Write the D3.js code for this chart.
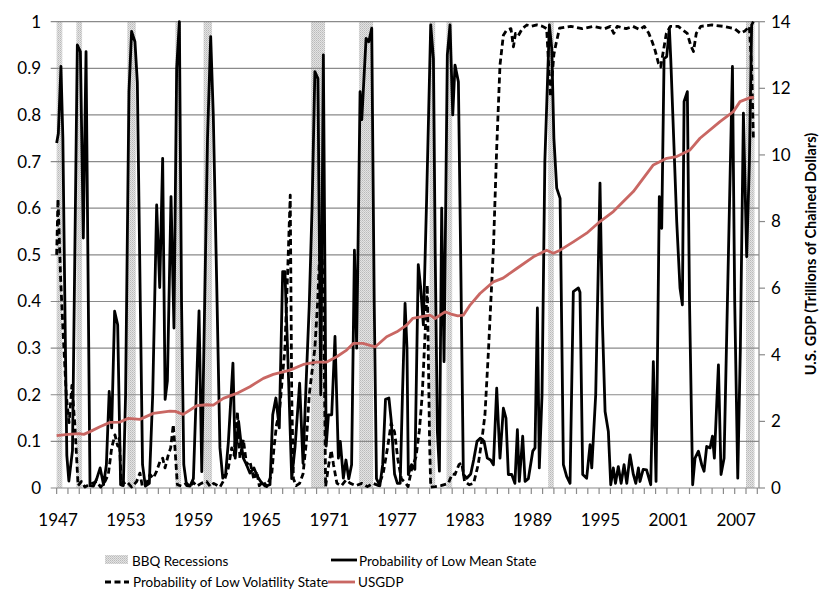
<!DOCTYPE html>
<html><head><meta charset="utf-8">
<script src="https://cdn.jsdelivr.net/npm/d3@7"></script>
<style>
html,body{margin:0;padding:0;background:#fff;}
svg text{font-family:Lato,"Open Sans",sans-serif;fill:#000;}
</style></head>
<body>
<svg id="chart" width="822" height="600"></svg>
<script>
// ---------- DATA ----------
const recessionStart = [1947.0, 1948.75, 1953.25, 1957.5, 1960.0, 1969.5, 1973.75, 1980.0, 1981.5, 1990.5, 2008.0];
const recessionEnd   = [1947.5, 1949.25, 1954.0, 1958.0, 1960.75, 1970.75, 1975.0, 1980.5, 1982.0, 1991.0, 2008.75];

const lowMeanT = [1947.0,1947.15,1947.38,1947.55,1947.75,1947.9,1948.08,1948.4,1948.83,1949.1,1949.36,1949.6,1949.95,1950.25,1950.55,1950.85,1951.15,1951.4,1951.65,1951.87,1952.13,1952.4,1952.66,1952.9,1953.1,1953.4,1953.63,1953.93,1954.14,1954.4,1954.6,1954.85,1955.2,1955.5,1955.85,1956.12,1956.38,1956.6,1956.8,1957.12,1957.38,1957.62,1957.86,1958.05,1958.25,1958.5,1958.8,1959.1,1959.35,1959.6,1959.84,1960.1,1960.35,1960.63,1960.86,1961.16,1961.45,1961.7,1961.95,1962.2,1962.6,1962.8,1963.1,1963.3,1963.52,1963.8,1964.1,1964.46,1964.76,1965.05,1965.44,1965.88,1966.12,1966.4,1966.7,1967.0,1967.2,1967.5,1967.8,1968.1,1968.5,1968.8,1969.1,1969.35,1969.6,1969.85,1970.12,1970.37,1970.6,1970.85,1971.05,1971.34,1971.63,1971.93,1972.1,1972.37,1972.6,1972.85,1973.1,1973.35,1973.55,1973.85,1974.0,1974.38,1974.62,1974.88,1975.1,1975.3,1975.6,1975.85,1976.1,1976.4,1976.6,1976.9,1977.15,1977.4,1977.6,1977.83,1978.0,1978.12,1978.4,1978.7,1979.0,1979.21,1979.45,1979.74,1980.1,1980.34,1980.5,1980.69,1980.87,1981.07,1981.28,1981.57,1981.81,1982.05,1982.25,1982.55,1982.75,1982.99,1983.29,1983.64,1983.9,1984.2,1984.5,1984.82,1985.11,1985.4,1985.65,1985.94,1986.23,1986.53,1986.76,1986.97,1987.27,1987.55,1987.77,1987.94,1988.24,1988.45,1988.74,1989.13,1989.33,1989.54,1989.71,1989.95,1990.2,1990.6,1990.81,1991.0,1991.25,1991.55,1991.84,1992.13,1992.43,1992.72,1993.17,1993.31,1993.55,1993.9,1994.2,1994.35,1994.7,1995.08,1995.3,1995.53,1995.82,1996.03,1996.26,1996.45,1996.7,1996.95,1997.21,1997.45,1997.74,1998.03,1998.25,1998.48,1998.62,1998.9,1999.2,1999.57,1999.8,2000.04,2000.33,2000.54,2000.75,2000.98,2001.22,2001.34,2001.6,2001.87,2002.16,2002.37,2002.52,2002.81,2003.0,2003.28,2003.49,2003.79,2004.08,2004.29,2004.52,2004.82,2005.03,2005.2,2005.56,2005.79,2006.06,2006.4,2006.8,2007.0,2007.27,2007.5,2007.77,2008.06,2008.3,2008.5,2008.65];
const lowMeanP = [0.74,0.76,0.904,0.75,0.35,0.07,0.015,0.08,0.95,0.936,0.536,0.936,0.005,0.004,0.02,0.043,0.007,0.05,0.207,0.129,0.379,0.35,0.007,0.005,0.2,0.85,0.979,0.957,0.87,0.4,0.05,0.004,0.01,0.2,0.607,0.43,0.707,0.19,0.23,0.625,0.343,0.9,1.0,0.4,0.05,0.005,0.004,0.02,0.2,0.38,0.035,0.4,0.75,0.968,0.8,0.443,0.086,0.021,0.03,0.1,0.268,0.064,0.143,0.1,0.064,0.05,0.032,0.043,0.025,0.014,0.004,0.007,0.157,0.193,0.129,0.464,0.464,0.25,0.02,0.089,0.225,0.053,0.24,0.39,0.6,0.893,0.878,0.2,0.929,0.09,0.157,0.157,0.325,0.064,0.1,0.021,0.06,0.02,0.05,0.51,0.3,0.85,0.79,0.964,0.957,0.986,0.4,0.02,0.005,0.05,0.19,0.193,0.146,0.03,0.01,0.01,0.2,0.396,0.3,0.029,0.05,0.04,0.479,0.43,0.35,0.621,0.993,0.921,0.5,0.121,0.036,0.6,0.271,0.929,0.993,0.8,0.907,0.871,0.5,0.029,0.021,0.03,0.06,0.1,0.107,0.1,0.064,0.06,0.05,0.214,0.064,0.171,0.15,0.029,0.029,0.01,0.125,0.014,0.111,0.014,0.02,0.079,0.086,0.386,0.043,0.2,0.7,0.993,0.943,0.75,0.643,0.621,0.05,0.025,0.01,0.421,0.429,0.42,0.029,0.021,0.093,0.043,0.2,0.654,0.35,0.164,0.121,0.007,0.043,0.01,0.046,0.01,0.05,0.01,0.071,0.029,0.01,0.043,0.014,0.04,0.039,0.007,0.271,0.014,0.625,0.557,0.921,0.925,0.986,0.921,0.75,0.571,0.429,0.393,0.829,0.85,0.4,0.007,0.064,0.079,0.05,0.036,0.089,0.086,0.111,0.064,0.264,0.029,0.064,0.45,0.904,0.4,0.021,0.3,0.804,0.496,0.7,0.993,1.0];

const lowVolT = [1947.0,1947.12,1947.35,1947.6,1947.85,1948.1,1948.35,1948.6,1948.9,1949.2,1949.5,1949.95,1950.54,1950.9,1951.28,1951.57,1951.87,1952.16,1952.4,1952.55,1952.72,1953.19,1953.64,1954.08,1954.37,1954.58,1954.96,1955.26,1955.55,1955.85,1956.14,1956.38,1956.59,1956.88,1957.09,1957.32,1957.47,1957.68,1958.06,1958.5,1958.8,1959.1,1959.39,1959.8,1960.27,1960.6,1960.9,1961.45,1961.9,1962.19,1962.49,1962.7,1962.99,1963.22,1963.52,1963.81,1964.1,1964.46,1964.7,1964.93,1965.29,1965.6,1966.03,1966.23,1966.46,1966.7,1966.95,1967.2,1967.45,1967.67,1967.8,1967.95,1968.2,1968.5,1968.8,1969.1,1969.35,1969.6,1969.85,1970.1,1970.35,1970.6,1970.8,1971.05,1971.3,1971.5,1971.8,1972.2,1972.6,1973.0,1973.5,1974.0,1974.5,1975.0,1975.5,1975.9,1976.3,1976.6,1976.9,1977.2,1977.5,1977.9,1978.1,1978.4,1978.8,1979.1,1979.35,1979.6,1979.8,1980.0,1980.1,1980.5,1981.0,1981.66,1982.0,1982.25,1982.6,1982.84,1983.1,1983.5,1983.9,1984.3,1984.61,1984.9,1985.2,1985.65,1985.94,1986.23,1986.53,1986.82,1987.2,1987.42,1987.6,1987.85,1988.2,1988.6,1989.0,1989.5,1990.0,1990.36,1990.6,1990.7,1991.0,1991.2,1991.5,1992.5,1993.5,1994.5,1995.5,1996.0,1996.3,1996.6,1997.4,1998.0,1998.6,1999.0,1999.4,1999.7,1999.95,2000.25,2000.45,2000.7,2000.95,2001.3,2002.0,2002.8,2003.1,2003.35,2003.6,2004.0,2005.0,2006.0,2007.0,2007.5,2007.9,2008.3,2008.5,2008.65];
const lowVolP = [0.5,0.62,0.45,0.32,0.2,0.14,0.22,0.14,0.005,0.014,0.002,0.008,0.014,0.002,0.014,0.029,0.086,0.114,0.09,0.107,0.007,0.014,0.002,0.014,0.032,0.004,0.01,0.029,0.021,0.036,0.057,0.064,0.043,0.071,0.086,0.136,0.086,0.007,0.004,0.01,0.003,0.012,0.004,0.01,0.014,0.003,0.01,0.002,0.021,0.043,0.086,0.07,0.164,0.064,0.104,0.05,0.057,0.018,0.036,0.005,0.014,0.003,0.029,0.086,0.136,0.16,0.23,0.3,0.47,0.628,0.2,0.02,0.005,0.01,0.03,0.1,0.2,0.25,0.3,0.4,0.55,0.45,0.003,0.046,0.081,0.05,0.01,0.005,0.017,0.01,0.005,0.01,0.003,0.01,0.005,0.032,0.089,0.139,0.12,0.06,0.02,0.01,0.003,0.039,0.067,0.124,0.2,0.33,0.435,0.1,0.002,0.003,0.005,0.01,0.03,0.029,0.05,0.054,0.014,0.007,0.01,0.05,0.1,0.157,0.29,0.514,0.729,0.907,0.971,0.982,0.985,0.946,0.975,0.97,0.985,0.993,0.99,0.993,0.99,0.985,0.88,0.839,0.93,0.954,0.986,0.99,0.985,0.99,0.985,0.99,0.975,0.99,0.985,0.99,0.983,0.99,0.975,0.957,0.939,0.911,0.903,0.939,0.975,0.99,0.99,0.975,0.95,0.936,0.975,0.99,0.993,0.99,0.985,0.975,0.98,0.99,0.9,0.75];

const gdpT = [1947.0,1948.0,1949.0,1949.4,1950.0,1950.83,1951.72,1952.6,1953.34,1954.37,1955.55,1957.03,1957.5,1958.2,1959.39,1960.3,1960.86,1961.75,1962.93,1964.1,1965.29,1966.17,1967.65,1968.83,1970.0,1970.9,1971.78,1972.66,1973.25,1974.1,1975.2,1976.2,1977.1,1978.0,1978.5,1980.04,1980.48,1981.37,1981.9,1982.5,1982.99,1983.6,1984.46,1985.64,1986.5,1987.71,1989.19,1990.36,1990.95,1991.55,1992.72,1993.9,1995.08,1996.26,1998.03,1999.8,2000.98,2001.87,2003.05,2003.93,2005.7,2006.88,2007.47,2008.36,2008.7];
const gdpV = [1.57,1.61,1.63,1.61,1.70,1.84,1.97,1.98,2.09,2.06,2.24,2.31,2.30,2.21,2.47,2.50,2.49,2.69,2.84,3.04,3.29,3.41,3.54,3.71,3.78,3.78,3.94,4.14,4.34,4.34,4.24,4.54,4.69,4.90,5.09,5.19,5.09,5.29,5.22,5.17,5.19,5.50,5.84,6.19,6.30,6.59,6.94,7.14,7.05,7.14,7.39,7.65,8.00,8.30,8.90,9.70,9.90,9.95,10.15,10.50,11.00,11.30,11.60,11.72,11.73];

const leftTicks = [0,0.1,0.2,0.3,0.4,0.5,0.6,0.7,0.8,0.9,1];
const leftTickLabels = ["0","0.1","0.2","0.3","0.4","0.5","0.6","0.7","0.8","0.9","1"];
const rightTicks = [0,2,4,6,8,10,12,14];
const yearLabels = [1947,1953,1959,1965,1971,1977,1983,1989,1995,2001,2007];
const legendLabels = ["BBQ Recessions","Probability of Low Mean State","Probability of Low Volatility State","USGDP"];
const rightTitle = "U.S. GDP (Trillions of Chained Dollars)";

// ---------- DRAWING ----------
const svg = d3.select("#chart");
const x = d3.scaleLinear().domain([1947, 2009.15]).range([56.65, 759]);
const y = d3.scaleLinear().domain([0, 1]).range([488, 21.7]);
const y2 = d3.scaleLinear().domain([0, 14]).range([488, 21.7]);
const gridCol = "#8a8a8a";
const red = "#c96763";

const defs = svg.append("defs");
const pat = defs.append("pattern").attr("id","rec").attr("width",2).attr("height",2).attr("patternUnits","userSpaceOnUse");
pat.append("rect").attr("width",2).attr("height",2).attr("fill","#e3e3e3");
pat.append("rect").attr("x",0).attr("y",0).attr("width",1).attr("height",1).attr("fill","#bababa");
pat.append("rect").attr("x",1).attr("y",1).attr("width",1).attr("height",1).attr("fill","#c9c9c9");

// recessions
svg.append("g").selectAll("rect").data(d3.range(recessionStart.length)).join("rect")
  .attr("x", i => x(recessionStart[i]))
  .attr("width", i => x(recessionEnd[i]) - x(recessionStart[i]))
  .attr("y", y(1)).attr("height", y(0) - y(1))
  .attr("fill", "url(#rec)");

// gridlines (with left outside ticks)
svg.append("g").selectAll("line").data(leftTicks).join("line")
  .attr("x1", 50.7).attr("x2", 759)
  .attr("y1", d => y(d)).attr("y2", d => y(d))
  .attr("stroke", gridCol).attr("stroke-width", 1.2);

// left labels
svg.append("g").selectAll("text").data(leftTicks).join("text")
  .attr("x", 41).attr("y", d => y(d)).attr("dy","0.35em")
  .attr("text-anchor","end").attr("font-size", 17)
  .text((d,i) => leftTickLabels[i]);

// bottom year ticks
svg.append("g").selectAll("line").data(d3.range(1947, 2010)).join("line")
  .attr("x1", d => x(d)).attr("x2", d => x(d))
  .attr("y1", 488).attr("y2", 494)
  .attr("stroke", gridCol).attr("stroke-width", 1.2);
svg.append("g").selectAll("text").data(yearLabels).join("text")
  .attr("x", d => x(d + 0.125)).attr("y", 526)
  .attr("text-anchor","middle").attr("font-size", 17)
  .text(d => d);

// right axis
svg.append("line").attr("x1",759).attr("x2",759).attr("y1",y2(14)).attr("y2",y2(0))
  .attr("stroke", gridCol).attr("stroke-width",1.2);
svg.append("g").selectAll("line").data(rightTicks).join("line")
  .attr("x1", 759).attr("x2", 765)
  .attr("y1", d => y2(d)).attr("y2", d => y2(d))
  .attr("stroke", gridCol).attr("stroke-width", 1.2);
svg.append("g").selectAll("text").data(rightTicks).join("text")
  .attr("x", 771).attr("y", d => y2(d)).attr("dy","0.35em")
  .attr("font-size", 17).text(d => d);
svg.append("text").attr("transform","translate(816,254) rotate(-90)")
  .attr("text-anchor","middle").attr("font-size", 14.5).attr("font-weight","bold")
  .text(rightTitle);

// series
const lineMean = d3.line().x(i => x(lowMeanT[i])).y(i => y(lowMeanP[i]));
const lineVol = d3.line().x(i => x(lowVolT[i])).y(i => y(lowVolP[i]));
const lineGdp = d3.line().x(i => x(gdpT[i])).y(i => y2(gdpV[i]));

svg.append("path").attr("d", lineMean(d3.range(lowMeanT.length)))
  .attr("fill","none").attr("stroke","#000").attr("stroke-width",2.8).attr("stroke-linejoin","round");
svg.append("path").attr("d", lineVol(d3.range(lowVolT.length)))
  .attr("fill","none").attr("stroke","#000").attr("stroke-width",2.8)
  .attr("stroke-dasharray","6,3.5").attr("stroke-linejoin","round");
svg.append("path").attr("d", lineGdp(d3.range(gdpT.length)))
  .attr("fill","none").attr("stroke",red).attr("stroke-width",2.8).attr("stroke-linejoin","round");

// legend
const lg = svg.append("g").attr("font-size", 13.5);
lg.append("rect").attr("x",105).attr("y",555).attr("width",23).attr("height",9).attr("fill","url(#rec)");
lg.append("text").attr("x",132).attr("y",565.5).text(legendLabels[0]);
lg.append("line").attr("x1",331).attr("x2",357).attr("y1",560).attr("y2",560).attr("stroke","#000").attr("stroke-width",2.8);
lg.append("text").attr("x",359).attr("y",565.5).text(legendLabels[1]);
lg.append("line").attr("x1",105).attr("x2",129).attr("y1",582).attr("y2",582).attr("stroke","#000").attr("stroke-width",2.8).attr("stroke-dasharray","6,3.5");
lg.append("text").attr("x",133).attr("y",587).text(legendLabels[2]);
lg.append("line").attr("x1",328).attr("x2",355).attr("y1",582).attr("y2",582).attr("stroke",red).attr("stroke-width",2.8);
lg.append("text").attr("x",358).attr("y",587).text(legendLabels[3]);
</script>
</body></html>
